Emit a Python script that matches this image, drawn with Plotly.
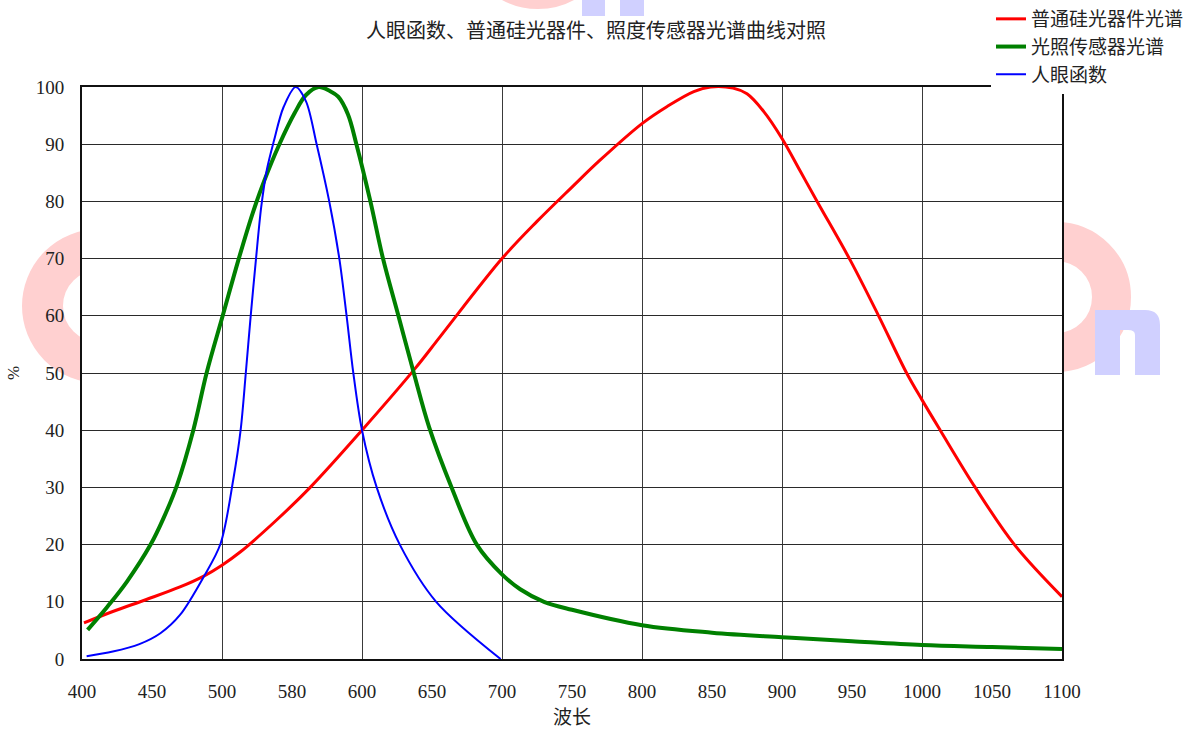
import plotly.graph_objects as go

# ---------------- data ----------------
si_nm = [401.4, 422, 446, 470, 487, 500, 513, 539, 563, 600, 638, 656, 700, 725, 750, 770,
         800, 818, 837, 849, 865, 875, 887, 900, 913, 926, 949, 969, 989,
         1000, 1013, 1038, 1066, 1100]
si_val = [6.3, 8.3, 10.4, 12.6, 14.5, 16.4, 18.7, 24.3, 30, 40, 50.8, 56.4, 70, 76.5, 82.5, 87.2,
          93.6, 96.6, 99.2, 100, 99.8, 98.8, 95.7, 91, 85.3, 79.6, 69.6, 60, 50,
          45.3, 40, 30, 20, 10.9]

als_nm = [404, 418, 432, 449, 458, 468, 479.5, 489, 500.5, 512, 522, 530, 541, 552, 560,
          569, 577, 583, 590, 596, 606, 615, 626, 637, 648, 664, 682, 700, 713, 730,
          750, 800, 850, 900, 950, 1000, 1050, 1100]
als_val = [5.1, 9.1, 13.5, 20, 24.5, 30.5, 40, 50, 60, 70, 78, 83.5, 90, 95.5, 98.6,
           100, 99.3, 98.3, 95.2, 90, 80, 70, 60, 50, 40.5, 30, 20, 14.8, 12.2, 10,
           8.6, 5.9, 4.6, 3.8, 3.1, 2.45, 2.1, 1.75]

eye_nm = [403.3, 422, 441, 456, 470, 487, 499, 508, 513.3, 517, 520.5, 524.3, 528, 532, 537,
          544, 552.6, 560, 567.6, 576.6, 583.8, 589, 593.8, 600, 610.5, 627, 653, 699]
eye_val = [0.5, 1.3, 2.6, 4.5, 7.7, 14.4, 20.2, 31.3, 40, 50, 60, 70, 79, 85.5, 90.5,
           96.5, 100, 97.5, 90, 80, 70, 60, 50, 40, 30, 20, 10, 0]

series_names = ["普通硅光器件光谱", "光照传感器光谱", "人眼函数"]
x_tick_vals = [400, 450, 500, 550, 600, 650, 700, 750, 800, 850, 900, 950, 1000, 1050, 1100]
x_tick_text = ["400", "450", "500", "580", "600", "650", "700", "750", "800", "850",
               "900", "950", "1000", "1050", "1100"]
y_tick_vals = [0, 10, 20, 30, 40, 50, 60, 70, 80, 90, 100]

title_text = "人眼函数、普通硅光器件、照度传感器光谱曲线对照"
x_title = "波长"
y_title = "%"

# ---------------- figure ----------------
FONT = "Liberation Serif, Noto Sans CJK SC, serif"
W, H = 1204, 732
L, R, T, B = 82, 142, 87, 73
PW, PH = W - L - R, H - T - B


def px(x):
    return (x - L) / PW


def py(y):
    return (H - B - y) / PH


fig = go.Figure()
fig.add_trace(go.Scatter(x=si_nm, y=si_val, name=series_names[0], mode="lines",
                         line=dict(color="#ff0000", width=3, shape="spline", smoothing=1.0)))
fig.add_trace(go.Scatter(x=als_nm, y=als_val, name=series_names[1], mode="lines",
                         line=dict(color="#008000", width=4, shape="spline", smoothing=1.0)))
fig.add_trace(go.Scatter(x=eye_nm, y=eye_val, name=series_names[2], mode="lines",
                         line=dict(color="#0000ff", width=2, shape="spline", smoothing=0.9)))

# faint background watermark (decoration behind the chart)
pink = "#ffd0d0"
blue = "#d0d0ff"
shapes = []


def ring(cx, cy, rmid, lw):
    return dict(type="circle", xref="paper", yref="paper", layer="below",
                x0=px(cx - rmid), x1=px(cx + rmid), y0=py(cy + rmid), y1=py(cy - rmid),
                line=dict(color=pink, width=lw), fillcolor="rgba(0,0,0,0)")


shapes.append(ring(99, 306, 56.5, 41))
shapes.append(ring(1056, 297, 55.5, 39))
shapes.append(ring(538, -66, 55.5, 39))
for (a, b) in [(582, 605), (620, 644)]:
    shapes.append(dict(type="rect", xref="paper", yref="paper", layer="below",
                       x0=px(a), x1=px(b), y0=py(16), y1=py(-5),
                       line=dict(width=0), fillcolor=blue))
# letter "n"
n_path = ("M {a},{b} L {a},{c} L {d},{c} Q {e},{c} {e},{f} L {e},{b} L {g},{b} "
          "L {g},{h} Q {g},{i} {j},{i} L {k},{i} L {k},{b} Z").format(
    a=px(1095), b=py(375), c=py(310), d=px(1145), e=px(1160), f=py(325),
    g=px(1135), h=py(335), i=py(330), j=px(1128), k=px(1120))
shapes.append(dict(type="path", xref="paper", yref="paper", layer="below",
                   path=n_path, line=dict(width=0), fillcolor=blue))
# white plot background over the watermark
shapes.append(dict(type="rect", xref="paper", yref="paper", layer="below",
                   x0=0, x1=1, y0=0, y1=1, line=dict(width=0), fillcolor="white"))

fig.update_layout(
    width=W, height=H,
    margin=dict(l=L, r=R, t=T, b=B, autoexpand=False),
    paper_bgcolor="white", plot_bgcolor="white",
    font=dict(family=FONT, size=20, color="#222222"),
    title=dict(text=title_text, x=596 / W, xanchor="center", y=1 - 31 / H, yanchor="middle",
               font=dict(family=FONT, size=20, color="#222222")),
    showlegend=True,
    legend=dict(x=px(991), y=py(0), xanchor="left", yanchor="top",
                bgcolor="white", borderwidth=0, font=dict(family=FONT, size=19, color="#222222"),
                tracegroupgap=0, itemwidth=30),
    shapes=shapes,
)

fig.update_xaxes(
    range=[400, 1100], tickmode="array", tickvals=x_tick_vals, ticktext=x_tick_text,
    showgrid=False, ticks="", ticklabelstandoff=14, automargin=False,
    minor=dict(tickmode="linear", tick0=400, dtick=100, showgrid=True,
               gridcolor="#3a3a3a", gridwidth=1, ticks=""),
    showline=True, linecolor="#111111", linewidth=2, mirror=True,
    zeroline=False,
    title=dict(text=x_title, standoff=10, font=dict(family=FONT, size=19)),
    tickfont=dict(family=FONT, size=19),
)
fig.update_yaxes(
    range=[0, 100], tickmode="array", tickvals=y_tick_vals,
    showgrid=True, gridcolor="#2a2a2a", gridwidth=1, ticks="", ticklabelstandoff=12,
    automargin=False,
    showline=True, linecolor="#111111", linewidth=2, mirror=True,
    zeroline=False,
    title=dict(text=y_title, standoff=12, font=dict(family=FONT, size=17)),
    tickfont=dict(family=FONT, size=19),
)

fig.write_html("out.html", config={"displayModeBar": False},
               post_script="document.body.style.margin='0px';document.body.style.overflow='hidden';")
